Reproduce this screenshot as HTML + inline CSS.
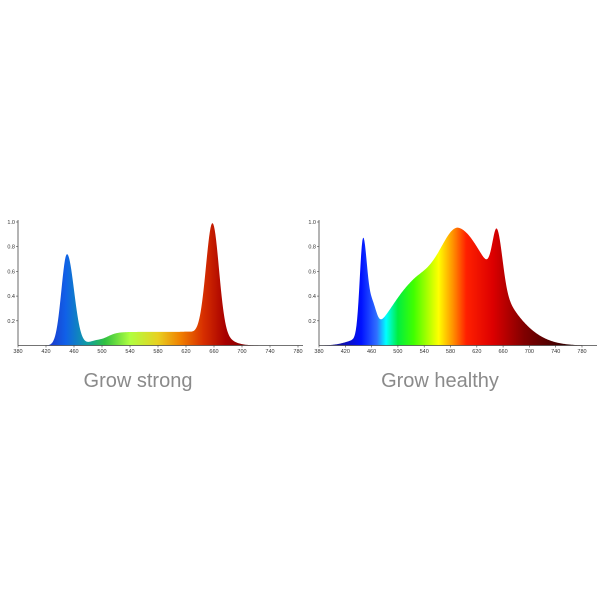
<!DOCTYPE html>
<html><head><meta charset="utf-8"><style>
html,body{margin:0;padding:0;background:#fff;width:600px;height:600px;overflow:hidden}
svg{position:absolute;left:0;top:0}
text{font-family:"Liberation Sans",sans-serif}
</style></head><body>
<svg id="s" width="600" height="600" xmlns="http://www.w3.org/2000/svg">
<defs>
<linearGradient id="gl" gradientUnits="userSpaceOnUse" x1="18" x2="298" y1="0" y2="0">
<stop offset="0.12" stop-color="#1a3fd0"/>
<stop offset="0.17" stop-color="#1060e8"/>
<stop offset="0.25" stop-color="#10a0a0"/>
<stop offset="0.31" stop-color="#30c040"/>
<stop offset="0.40" stop-color="#b0ff40"/>
<stop offset="0.50" stop-color="#e8d020"/>
<stop offset="0.58" stop-color="#f08000"/>
<stop offset="0.66" stop-color="#d83000"/>
<stop offset="0.74" stop-color="#a80000"/>
<stop offset="0.85" stop-color="#700000"/>
</linearGradient>
<linearGradient id="gr" gradientUnits="userSpaceOnUse" x1="319" x2="582" y1="0" y2="0">
<stop offset="0.08" stop-color="#1010a0"/>
<stop offset="0.16" stop-color="#0010ff"/>
<stop offset="0.22" stop-color="#3070ff"/>
<stop offset="0.255" stop-color="#00ffff"/>
<stop offset="0.30" stop-color="#00ee40"/>
<stop offset="0.36" stop-color="#40ff00"/>
<stop offset="0.455" stop-color="#ffff00"/>
<stop offset="0.51" stop-color="#ff9000"/>
<stop offset="0.56" stop-color="#ff2000"/>
<stop offset="0.66" stop-color="#dd0000"/>
<stop offset="0.78" stop-color="#800000"/>
<stop offset="0.95" stop-color="#300000"/>
</linearGradient>
</defs>
<g id="g"></g>
<text x="138" y="387" font-size="20" fill="#8a8a8a" text-anchor="middle">Grow strong</text>
<text x="440" y="387" font-size="20" fill="#8a8a8a" text-anchor="middle">Grow healthy</text>
</svg>
<script>
function ag(x,m,sl,sr){var s=x<m?sl:sr;return Math.exp(-0.5*((x-m)/s)*((x-m)/s));}
function sg(x){return 1/(1+Math.exp(-x));}
function fl(x){return 0.74*ag(x,450,8,10)+0.11*sg((x-505)/7)*sg((630-x)/5)+0.03*ag(x,490,10,10)+0.85*ag(x,658,9,9)+0.15*ag(x,650,14,22);}
function fr(x){return 0.78*ag(x,447,5,6)+0.2*ag(x,461,6,6)+0.45*ag(x,522,36,30)+0.92*ag(x,593,32,42)+0.42*ag(x,651,7,8)+0.18*ag(x,660,25,40)+0.03*ag(x,440,20,20);}
var NS="http://www.w3.org/2000/svg",g=document.getElementById('g');
function chart(x0,x1,y0,yt,f,fill,xend){
  var k=(x1-x0)/400,h=y0-yt,d="M"+x0+","+y0;
  for(var l=380;l<=780;l+=1){d+=" L"+(x0+(l-380)*k).toFixed(2)+","+(y0-Math.min(f(l),1)*h).toFixed(2);}
  d+=" L"+x1+","+y0+" Z";
  var p=document.createElementNS(NS,'path');p.setAttribute('d',d);p.setAttribute('fill',fill);g.appendChild(p);
  var s='<line x1="'+x0+'" y1="'+(yt-2)+'" x2="'+x0+'" y2="'+y0+'" stroke="#444" stroke-width="0.8"/>'+
  '<line x1="'+x0+'" y1="'+y0+'" x2="'+xend+'" y2="'+y0+'" stroke="#444" stroke-width="0.8"/>';
  for(var i=1;i<=5;i++){var y=y0-i*0.2*h;s+='<line x1="'+(x0-2)+'" y1="'+y+'" x2="'+x0+'" y2="'+y+'" stroke="#444" stroke-width="0.6"/><text x="'+(x0-3)+'" y="'+(y+2)+'" font-size="5.5" fill="#333" text-anchor="end">'+(i*0.2).toFixed(1)+'</text>';}
  for(var l=380;l<=780;l+=40){var x=x0+(l-380)*k;s+='<line x1="'+x+'" y1="'+y0+'" x2="'+x+'" y2="'+(y0+2)+'" stroke="#444" stroke-width="0.6"/><text x="'+x+'" y="'+(y0+7.5)+'" font-size="5.5" fill="#333" text-anchor="middle">'+l+'</text>';}
  g.insertAdjacentHTML('beforeend',s);
}
chart(18,298,345.5,222,fl,'url(#gl)',303);
chart(319,582,345.5,222,fr,'url(#gr)',597);
</script>
</body></html>
